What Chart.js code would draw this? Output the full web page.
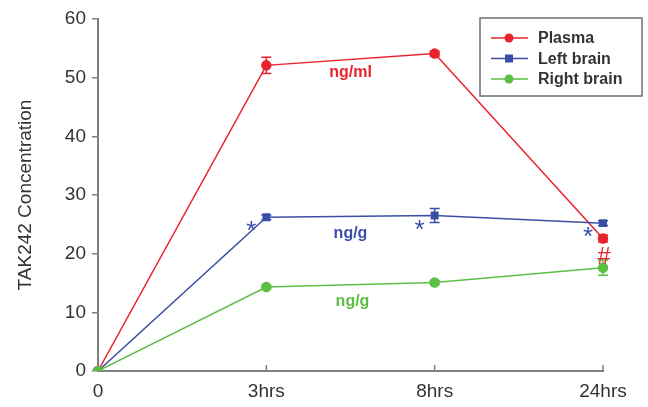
<!DOCTYPE html>
<html>
<head>
<meta charset="utf-8">
<script src="https://cdn.jsdelivr.net/npm/chart.js@4"></script>
<style>
  html, body { margin: 0; padding: 0; background: #fff; }
  #wrap { width: 648px; height: 407px; }
</style>
</head>
<body>
<div id="wrap"><canvas id="concChart"></canvas></div>
<script>
// Data
const categories = ['0', '3hrs', '8hrs', '24hrs'];
const plasma = [0, 52.1, 54.1, 22.6];
const plasmaErr = [0, 1.4, 0.4, 0.6];
const leftBrain = [0, 26.2, 26.5, 25.2];
const leftBrainErr = [0, 0.4, 1.2, 0.4];
const rightBrain = [0, 14.3, 15.1, 17.6];
const rightBrainErr = [0, 0.3, 0.3, 1.3];
const yTicks = [0, 10, 20, 30, 40, 50, 60];

const RED = '#e8232b';
const BLUE = '#3a4ea8';
const GREEN = '#5cbf45';
const AXIS = '#7f7f7f';
const FONT = "'Liberation Sans', Arial, sans-serif";

const errors = [plasmaErr, leftBrainErr, rightBrainErr];

// Error bars drawn through the chart scales
const errorBars = {
    id: 'errorBars',
    afterDatasetsDraw: (chart) => {
        const { ctx, scales: { x, y } } = chart;
        ctx.save();
        ctx.lineWidth = 1.5;
        chart.data.datasets.forEach((ds, i) => {
            ctx.strokeStyle = ds.borderColor;
            ds.data.forEach((v, j) => {
                const e = errors[i][j];
                if (!e) return;
                const px = x.getPixelForValue(j);
                const top = y.getPixelForValue(v + e);
                const bot = y.getPixelForValue(v - e);
                ctx.beginPath();
                ctx.moveTo(px, top); ctx.lineTo(px, bot);
                ctx.moveTo(px - 5, top); ctx.lineTo(px + 5, top);
                ctx.moveTo(px - 5, bot); ctx.lineTo(px + 5, bot);
                ctx.stroke();
            });
        });
        ctx.restore();
    }
};

// Upward x ticks, unit labels, significance marks and boxed legend
const extras = {
    id: 'extras',
    afterDraw: (chart) => {
        const { ctx, scales: { x, y } } = chart;
        ctx.save();

        // x ticks pointing into the plot
        ctx.strokeStyle = AXIS;
        ctx.lineWidth = 1.5;
        categories.forEach((c, j) => {
            if (j === 0) return;
            const px = x.getPixelForValue(j);
            ctx.beginPath();
            ctx.moveTo(px, y.bottom);
            ctx.lineTo(px, y.bottom - 6);
            ctx.stroke();
        });

        // unit labels
        ctx.font = `bold 16px ${FONT}`;
        ctx.textAlign = 'center';
        ctx.textBaseline = 'middle';
        const midX = (x.getPixelForValue(1) + x.getPixelForValue(2)) / 2;
        ctx.fillStyle = RED;
        ctx.fillText('ng/ml', midX, y.getPixelForValue(50.8));
        ctx.fillStyle = BLUE;
        ctx.fillText('ng/g', midX, y.getPixelForValue(23.4));
        ctx.fillStyle = GREEN;
        ctx.fillText('ng/g', midX + 2, y.getPixelForValue(11.9));

        // asterisks (left brain vs plasma)
        ctx.fillStyle = BLUE;
        ctx.font = `26px ${FONT}`;
        [1, 2, 3].forEach((j) => {
            ctx.fillText('*', x.getPixelForValue(j) - 15, y.getPixelForValue(leftBrain[j]) + 15);
        });

        // hash at 24hrs
        ctx.fillStyle = RED;
        ctx.font = `24px ${FONT}`;
        ctx.fillText('#', x.getPixelForValue(3) + 1, y.getPixelForValue(19.4));

        // legend box
        const lx = 480, ly = 18, lw = 162, lh = 78;
        ctx.fillStyle = '#fff';
        ctx.fillRect(lx, ly, lw, lh);
        ctx.strokeStyle = '#6e6e6e';
        ctx.lineWidth = 1.5;
        ctx.strokeRect(lx, ly, lw, lh);
        ctx.font = `bold 16px ${FONT}`;
        ctx.textAlign = 'left';
        chart.data.datasets.forEach((ds, i) => {
            const rowY = 38 + i * 20.5;
            ctx.strokeStyle = ds.borderColor;
            ctx.lineWidth = 1.5;
            ctx.beginPath();
            ctx.moveTo(491, rowY); ctx.lineTo(528, rowY);
            ctx.stroke();
            ctx.fillStyle = ds.borderColor;
            if (ds.pointStyle === 'rect') {
                ctx.fillRect(505, rowY - 4, 8, 8);
            } else {
                ctx.beginPath();
                ctx.arc(509, rowY, 4.5, 0, Math.PI * 2);
                ctx.fill();
            }
            ctx.fillStyle = '#333';
            ctx.fillText(ds.label, 538, rowY + 1);
        });

        ctx.restore();
    }
};

const ctx = document.getElementById('concChart').getContext('2d');
new Chart(ctx, {
    type: 'line',
    data: {
        labels: categories,
        datasets: [
            {
                label: 'Plasma',
                data: plasma,
                borderColor: RED,
                backgroundColor: RED,
                borderWidth: 1.5,
                pointStyle: 'circle',
                pointRadius: 4.5,
                tension: 0,
                order: 3
            },
            {
                label: 'Left brain',
                data: leftBrain,
                borderColor: BLUE,
                backgroundColor: BLUE,
                borderWidth: 1.5,
                pointStyle: 'rect',
                pointRadius: 4.5,
                tension: 0,
                order: 2
            },
            {
                label: 'Right brain',
                data: rightBrain,
                borderColor: GREEN,
                backgroundColor: GREEN,
                borderWidth: 1.5,
                pointStyle: 'circle',
                pointRadius: 4.5,
                tension: 0,
                order: 1
            }
        ]
    },
    options: {
        responsive: true,
        maintainAspectRatio: false,
        animation: false,
        layout: {
            padding: { top: 19, right: 45, left: 0, bottom: 0 }
        },
        plugins: {
            legend: { display: false },
            tooltip: { enabled: false }
        },
        scales: {
            x: {
                type: 'category',
                offset: false,
                grid: { drawOnChartArea: false, drawTicks: false },
                border: { color: AXIS, width: 2 },
                ticks: {
                    color: '#333',
                    padding: 9,
                    maxRotation: 0,
                    font: { family: FONT, size: 19 }
                },
                afterFit: (scale) => { scale.height = 36; }
            },
            y: {
                min: 0,
                max: 60,
                grid: { drawOnChartArea: false, drawTicks: true, tickLength: 6, color: AXIS, lineWidth: 1.5 },
                border: { color: AXIS, width: 2 },
                ticks: {
                    stepSize: 10,
                    color: '#333',
                    padding: 6,
                    font: { family: FONT, size: 19 },
                    callback: function(value) {
                        return yTicks.includes(value) ? value : '';
                    }
                },
                title: {
                    display: true,
                    text: 'TAK242 Concentration',
                    color: '#333',
                    font: { family: FONT, size: 19 },
                    padding: { top: 14, bottom: 0 }
                },
                afterFit: (scale) => { scale.width = 98; }
            }
        }
    },
    plugins: [errorBars, extras]
});
</script>
</body>
</html>
